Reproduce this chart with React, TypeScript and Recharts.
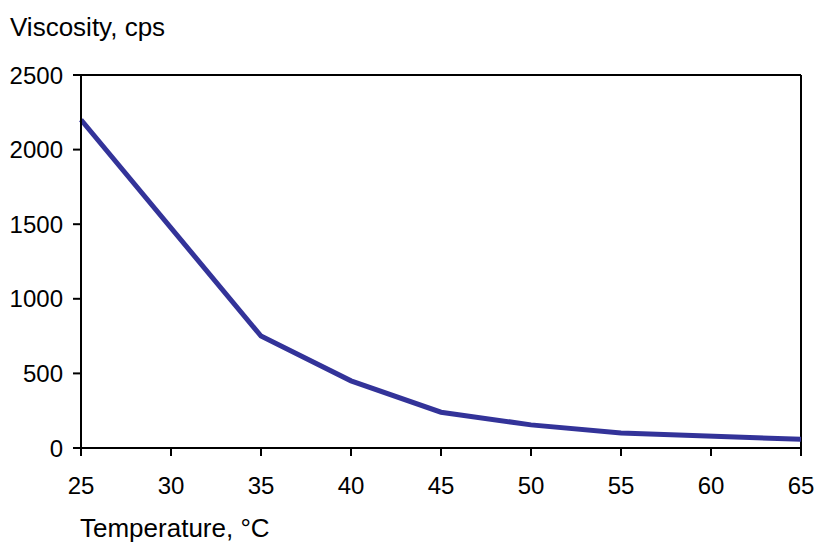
import React from "react";
import { LineChart, Line, XAxis, YAxis, ReferenceLine } from "recharts";

const temperatures = [25, 35, 40, 45, 50, 55, 65];
const viscosity = [2200, 750, 450, 240, 155, 100, 58];
const xTicks = [25, 30, 35, 40, 45, 50, 55, 60, 65];
const yTicks = [0, 500, 1000, 1500, 2000, 2500];

const data = temperatures.map((t, i) => ({ t, v: viscosity[i] }));

const FONT = "'Liberation Sans', Arial, sans-serif";

export default function App() {
  return (
    <div style={{ position: "absolute", left: 0, top: 0, width: 821, height: 546, background: "#fff", fontFamily: FONT }}>
      <div style={{ position: "absolute", left: 10, top: 13, fontSize: 26, color: "#000", lineHeight: "28px", whiteSpace: "nowrap" }}>
        Viscosity, cps
      </div>
      <div style={{ position: "absolute", left: 80, top: 514, fontSize: 26, color: "#000", lineHeight: "28px", whiteSpace: "nowrap" }}>
        Temperature, °C
      </div>
      <LineChart width={821} height={546} data={data} margin={{ top: 75, right: 20, bottom: 38, left: 8 }}>
        <XAxis
          dataKey="t"
          type="number"
          domain={[25, 65]}
          ticks={xTicks}
          tickSize={8}
          tickMargin={21}
          height={60}
          stroke="#000"
          strokeWidth={2}
          tick={{ fill: "#000", fontSize: 24, fontFamily: FONT }}
        />
        <YAxis
          type="number"
          domain={[0, 2500]}
          ticks={yTicks}
          tickSize={8}
          tickMargin={10}
          width={73}
          stroke="#000"
          strokeWidth={2}
          tick={{ fill: "#000", fontSize: 24, fontFamily: FONT }}
        />
        <ReferenceLine y={2500} stroke="#000" strokeWidth={2} />
        <ReferenceLine x={65} stroke="#000" strokeWidth={2} />
        <Line
          dataKey="v"
          type="linear"
          stroke="#333399"
          strokeWidth={5}
          dot={false}
          isAnimationActive={false}
        />
      </LineChart>
    </div>
  );
}
